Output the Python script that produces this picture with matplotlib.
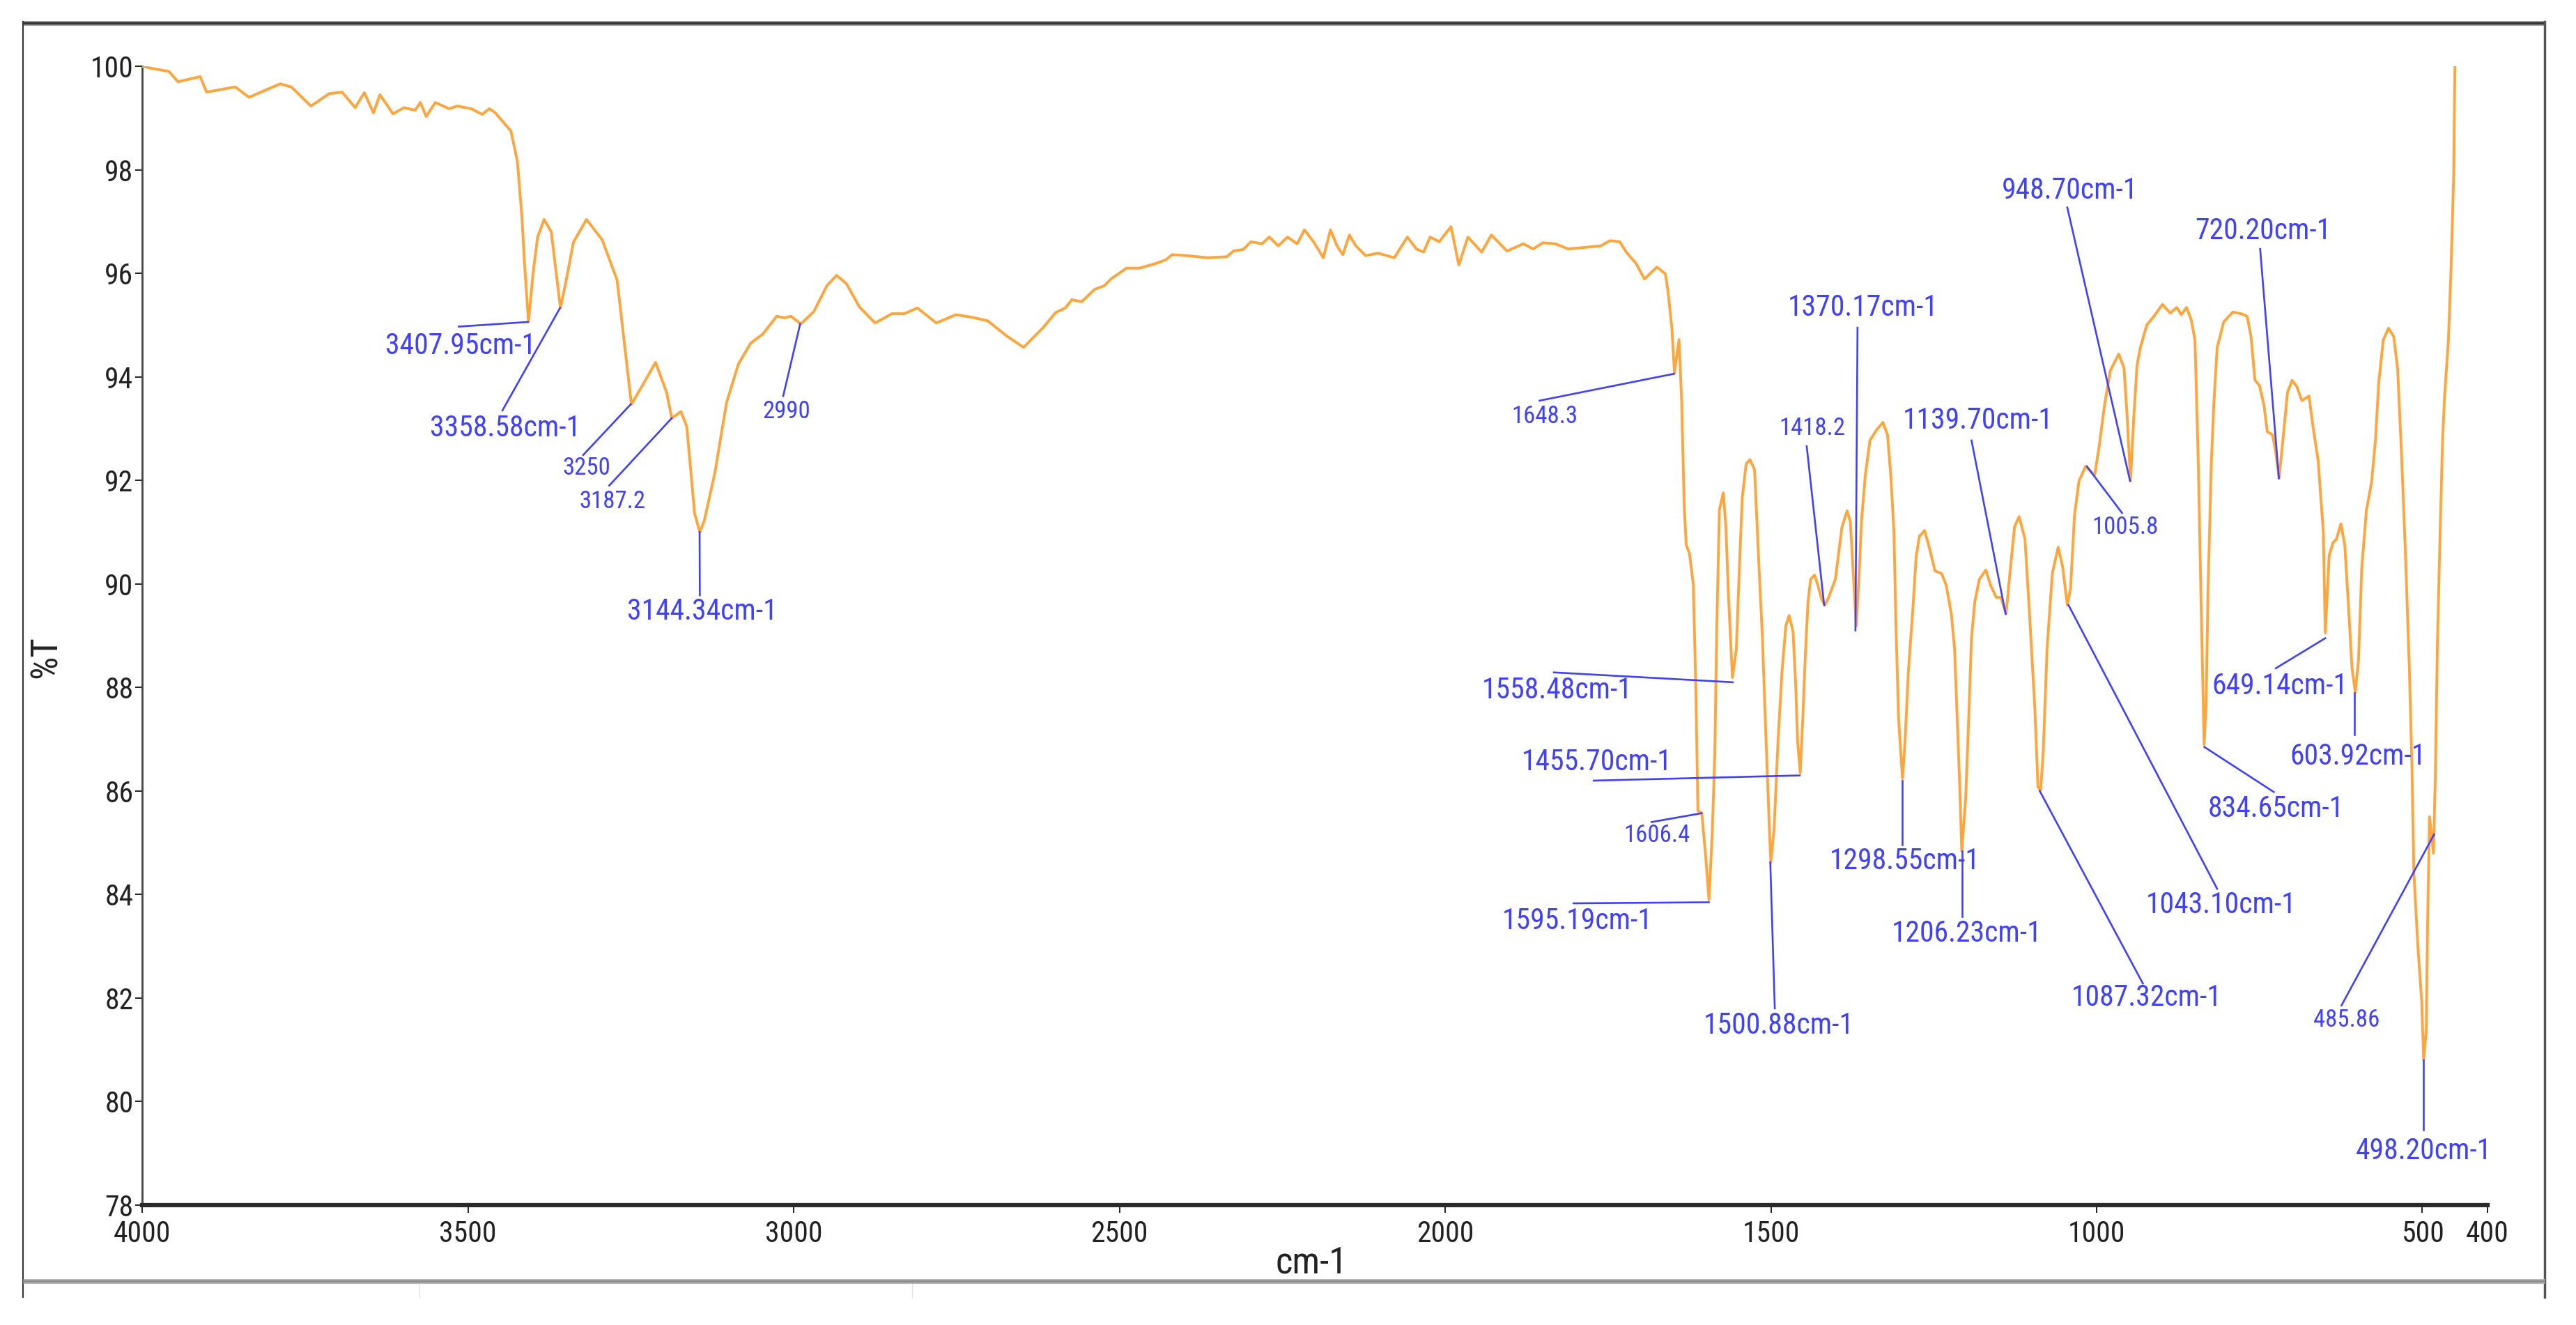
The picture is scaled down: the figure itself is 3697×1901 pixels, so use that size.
import matplotlib
matplotlib.use("Agg")
import matplotlib.pyplot as plt

# --- spectrum (wavenumber cm-1, %T) ---
WAVENUMBER = [
    4000, 3986, 3959, 3945, 3911, 3901, 3857, 3836, 3788, 3771, 3741, 3713, 3693,
    3673, 3659, 3645, 3635, 3615, 3598, 3581, 3573, 3564, 3550, 3529, 3516, 3495,
    3478, 3467, 3458, 3447, 3434, 3424, 3417, 3413, 3407, 3400, 3393, 3383, 3372,
    3366, 3358, 3349, 3338, 3318, 3294, 3271, 3249, 3229, 3212, 3195, 3187, 3173,
    3164, 3152, 3144, 3137, 3121, 3103, 3085, 3066, 3047, 3026, 3014, 3004, 2989,
    2969, 2949, 2934, 2919, 2899, 2875, 2849, 2830, 2810, 2781, 2751, 2726, 2702,
    2672, 2647, 2617, 2598, 2583, 2573, 2558, 2538, 2523, 2513, 2489, 2469, 2444,
    2429, 2419, 2395, 2365, 2335, 2325, 2310, 2298, 2281, 2270, 2256, 2242, 2227,
    2216, 2202, 2187, 2176, 2166, 2157, 2147, 2137, 2122, 2103, 2078, 2058, 2044,
    2033, 2023, 2009, 1991, 1979, 1965, 1944, 1929, 1905, 1880, 1865, 1850, 1831,
    1811, 1786, 1761, 1747, 1732, 1722, 1707, 1694, 1675, 1662, 1658, 1652, 1648,
    1641, 1637, 1633, 1630, 1625, 1619, 1615, 1612, 1606, 1600, 1595, 1590, 1586,
    1583, 1579, 1573, 1569, 1565, 1559, 1553, 1549, 1544, 1538, 1532, 1525, 1519,
    1513, 1508, 1502, 1500, 1495, 1489, 1483, 1477, 1472, 1466, 1462, 1459, 1455,
    1451, 1447, 1443, 1439, 1433, 1428, 1422, 1417, 1411, 1401, 1391, 1383, 1378,
    1374, 1369, 1364, 1361, 1355, 1348, 1338, 1328, 1321, 1316, 1311, 1308, 1304,
    1298, 1294, 1289, 1282, 1277, 1272, 1264, 1258, 1248, 1238, 1231, 1223, 1218,
    1214, 1210, 1207, 1201, 1197, 1192, 1187, 1180, 1170, 1163, 1154, 1147, 1139,
    1134, 1126, 1119, 1110, 1103, 1095, 1090, 1086, 1082, 1076, 1068, 1059, 1052,
    1045, 1040, 1034, 1027, 1017, 1003, 996, 988, 979, 966, 958, 953, 948, 943,
    938, 933, 923, 912, 899, 887, 877, 870, 862, 855, 849, 844, 840, 835, 832,
    829, 824, 820, 815, 805, 791, 778, 769, 763, 757, 750, 743, 738, 730, 725,
    720, 715, 707, 700, 693, 685, 674, 668, 660, 652, 649, 643, 637, 632, 625,
    619, 613, 608, 603, 598, 593, 586, 578, 572, 567, 560, 552, 544, 538, 532,
    526, 520, 516, 513, 507, 501, 498, 494, 492, 489, 483, 480, 477, 473, 469,
    466, 460, 456, 452, 450,
]
TRANSMITTANCE = [
    100.0, 99.96, 99.9, 99.7, 99.8, 99.5, 99.6, 99.4, 99.66, 99.6, 99.23, 99.47, 99.5,
    99.2, 99.49, 99.1, 99.45, 99.08, 99.2, 99.15, 99.3, 99.03, 99.3, 99.18, 99.23, 99.18,
    99.07, 99.18, 99.1, 98.94, 98.75, 98.16, 97.08, 96.17, 95.06, 96.0, 96.7, 97.04, 96.8,
    96.17, 95.33, 95.87, 96.6, 97.04, 96.65, 95.87, 93.47, 93.9, 94.28, 93.7, 93.2, 93.33,
    93.04, 91.36, 91.0, 91.23, 92.14, 93.5, 94.24, 94.65, 94.83, 95.17, 95.14, 95.17, 95.02,
    95.26, 95.76, 95.96, 95.8, 95.35, 95.04, 95.22, 95.22, 95.33, 95.04, 95.2, 95.15, 95.08,
    94.78, 94.57, 94.95, 95.24, 95.33, 95.49, 95.45, 95.69, 95.76, 95.89, 96.1, 96.1, 96.19,
    96.26, 96.36, 96.34, 96.3, 96.32, 96.43, 96.46, 96.61, 96.57, 96.7, 96.53, 96.7, 96.57,
    96.84, 96.61, 96.3, 96.84, 96.53, 96.36, 96.74, 96.53, 96.34, 96.39, 96.3, 96.7, 96.47,
    96.41, 96.7, 96.61, 96.9, 96.16, 96.7, 96.41, 96.74, 96.43, 96.57, 96.47, 96.59, 96.57,
    96.47, 96.5, 96.53, 96.63, 96.61, 96.41, 96.19, 95.89, 96.12, 95.99, 95.66, 94.95, 94.08,
    94.72, 93.55, 91.5, 90.76, 90.59, 89.98, 87.86, 85.62, 85.57, 84.73, 83.9, 85.18, 86.74,
    89.19, 91.43, 91.76, 91.09, 89.75, 88.19, 88.74, 90.09, 91.65, 92.32, 92.4, 92.2, 90.53,
    88.97, 87.18, 85.18, 84.62, 85.28, 86.97, 88.3, 89.19, 89.39, 89.08, 88.08, 86.97, 86.35,
    87.41, 88.64, 89.65, 90.09, 90.17, 89.98, 89.7, 89.59, 89.75, 90.09, 91.09, 91.41, 91.2,
    90.31, 89.19, 90.31, 91.2, 92.1, 92.77, 92.97, 93.12, 92.88, 92.1, 90.98, 89.19, 87.41,
    86.24, 86.97, 88.3, 89.52, 90.53, 90.92, 91.03, 90.76, 90.25, 90.2, 89.98, 89.42, 88.74,
    87.41, 86.06, 84.84, 85.85, 87.18, 88.97, 89.65, 90.09, 90.27, 89.98, 89.74, 89.74, 89.42,
    90.09, 91.1, 91.3, 90.87, 89.42, 87.64, 86.08, 86.01, 86.74, 88.76, 90.2, 90.71, 90.32,
    89.59, 89.91, 91.32, 91.99, 92.27, 92.1, 92.66, 93.44, 94.12, 94.44, 94.17, 93.21, 91.99, 93.21,
    94.22, 94.56, 95.0, 95.17, 95.4, 95.23, 95.34, 95.2, 95.34, 95.11, 94.71, 92.37, 89.87, 86.9, 87.64,
    89.87, 92.33, 93.5, 94.56, 95.06, 95.25, 95.22, 95.17, 94.78, 93.94, 93.83, 93.44, 92.94, 92.88, 92.54,
    92.04, 92.66, 93.7, 93.93, 93.82, 93.54, 93.63, 93.05, 92.38, 91.0, 89.05, 90.55, 90.8, 90.86, 91.16,
    90.74, 89.48, 88.38, 87.9, 88.53, 90.31, 91.41, 91.96, 92.78, 93.88, 94.71, 94.94, 94.78, 94.16, 92.51,
    90.59, 88.38, 86.47, 84.41, 83.02, 81.93, 80.8, 81.38, 83.44, 85.5, 84.8, 86.32, 88.8, 90.86, 92.78,
    93.6, 94.71, 96.08, 97.87, 100.0,
]

# --- peak labels: text, marked wavenumber, %T at the marked point ---
PEAK_LABELS = [
    "3407.95cm-1", "3358.58cm-1", "3250", "3187.2", "3144.34cm-1", "2990",
    "1648.3", "1558.48cm-1", "1455.70cm-1", "1606.4", "1595.19cm-1", "1500.88cm-1",
    "1298.55cm-1", "1206.23cm-1", "1370.17cm-1", "1418.2", "1139.70cm-1",
    "1087.32cm-1", "1043.10cm-1", "1005.8", "948.70cm-1", "834.65cm-1",
    "720.20cm-1", "649.14cm-1", "603.92cm-1", "485.86", "498.20cm-1",
]
PEAK_WN = [
    3407.95, 3358.58, 3250, 3187.2, 3144.34, 2990,
    1648.3, 1558.48, 1455.70, 1606.4, 1595.19, 1500.88,
    1298.55, 1206.23, 1370.17, 1418.2, 1139.70,
    1087.32, 1043.10, 1015, 948.70, 834.65,
    720.20, 649.14, 603.92, 482, 498.20,
]
PEAK_T = [
    95.06, 95.33, 93.47, 93.2, 91.0, 95.02,
    94.06, 88.1, 86.3, 85.57, 83.85, 84.62,
    86.2, 84.84, 89.1, 89.59, 89.42,
    86.0, 89.59, 92.27, 91.99, 86.85,
    92.04, 88.95, 87.9, 85.16, 80.8,
]

# leader end point and text centre for each label (layout, data units)
LEADER_END = [
    (3514, 94.97), (3447, 93.35), (3323, 92.49), (3283, 91.9), (3144, 89.78), (3016, 93.63),
    (1855, 93.54), (1833, 88.29), (1772, 86.2), (1683, 85.4), (1803, 83.83), (1494, 81.8),
    (1298.55, 84.96), (1206.23, 83.57), (1367, 94.95), (1445, 92.66), (1192, 92.77),
    (929, 82.28), (815, 84.11), (961, 91.37), (1045, 97.27), (728, 85.98),
    (749, 96.47), (725, 88.37), (603.92, 87.09), (624, 81.86), (498.2, 79.45),
]
TEXT_AT = [
    (3511, 94.6), (3443, 93.01), (3318, 92.24), (3278, 91.59), (3140, 89.46), (3011, 93.33),
    (1847, 93.23), (1828, 87.94), (1767, 86.55), (1675, 85.14), (1797, 83.48), (1488, 81.47),
    (1294, 84.65), (1199, 83.24), (1359, 95.34), (1437, 93.01), (1182, 93.15),
    (923, 82.0), (809, 83.79), (956, 91.1), (1041, 97.6), (725, 85.65),
    (745, 96.81), (719, 88.03), (599, 86.67), (616, 81.58), (498, 79.05),
]

X_TICKS = [4000, 3500, 3000, 2500, 2000, 1500, 1000, 500, 400]
Y_TICKS = [78, 80, 82, 84, 86, 88, 90, 92, 94, 96, 98, 100]

W, H = 3697, 1901
ORANGE = "#ffa53c"
BLUE = "#4040ff"
plt.rcParams["font.family"] = ["Roboto Condensed", "Liberation Sans", "DejaVu Sans"]

fig = plt.figure(figsize=(W / 100, H / 100), dpi=100)

# outer frame drawn in pixel space
frame = fig.add_axes([0, 0, 1, 1], zorder=-1)
frame.set_xlim(0, W)
frame.set_ylim(H, 0)
frame.axis("off")
frame.plot([33, 3652], [33, 33], color="#a0a0a0", lw=5, solid_capstyle="butt")
frame.plot([33, 3652], [33, 33], color="#333333", lw=2.5, solid_capstyle="butt")
frame.plot([33, 33], [31, 1861], color="#333333", lw=1.5)
frame.plot([3652, 3652], [31, 1861], color="#555555", lw=2.5)
frame.plot([33, 3652], [1838, 1838], color="#b5b5b5", lw=5, solid_capstyle="butt")
frame.plot([33, 3652], [1838, 1838], color="#8a8a8a", lw=2, solid_capstyle="butt")
for xx in (602, 1309):
    frame.plot([xx, xx], [1842, 1861], color="#e2e2e2", lw=1)

ax = fig.add_axes([204 / W, 1 - 1729 / H, 3366 / W, 1634 / H])
ax.plot(WAVENUMBER, TRANSMITTANCE, color=ORANGE, lw=2.8, zorder=3)

for lab, wn, t, (ex, ey), (tx, ty) in zip(PEAK_LABELS, PEAK_WN, PEAK_T, LEADER_END, TEXT_AT):
    small = "cm" not in lab
    ax.plot([wn, ex], [t, ey], color=BLUE, lw=1.9, zorder=4)
    ax.text(tx, ty, lab, color=BLUE, fontsize=25 if small else 30,
            ha="center", va="center", zorder=5)

ax.set_xlim(4000, 400)
ax.set_ylim(78, 100)
ax.set_xticks(X_TICKS)
ax.set_xticklabels([str(v) for v in X_TICKS])
ax.set_yticks(Y_TICKS)
ax.tick_params(axis="x", direction="out", length=8, width=1.4, pad=7,
               labelsize=30, colors="#222222")
ax.tick_params(axis="y", direction="out", length=7, width=1.4, pad=2,
               labelsize=30, colors="#222222")

for side in ("top", "right"):
    ax.spines[side].set_visible(False)
ax.spines["left"].set_color("#444444")
ax.spines["left"].set_linewidth(2)
ax.spines["left"].set_bounds(78, 100)
ax.spines["bottom"].set_color("#2a2a2a")
ax.spines["bottom"].set_linewidth(4.5)

ax.set_xlabel("cm-1", fontsize=38, color="#222222")
ax.xaxis.set_label_coords(0.4985, -0.0508)
ax.xaxis.label.set_va("center")
ax.set_ylabel("%T", fontsize=38, color="#222222")
ax.yaxis.set_label_coords(-0.041, 0.481)
ax.yaxis.label.set_va("center")

fig.savefig("out.png", dpi=100)
